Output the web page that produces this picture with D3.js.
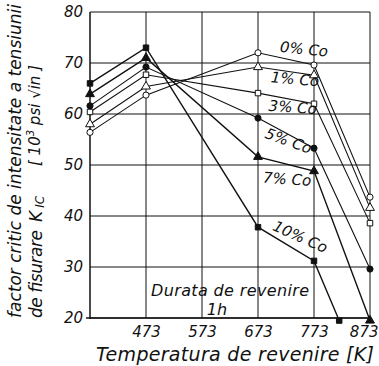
<!DOCTYPE html>
<html><head><meta charset="utf-8">
<script src="https://cdn.jsdelivr.net/npm/d3@7"></script>
<style>html,body{margin:0;padding:0;background:#fff;}svg{display:block;}</style>
</head><body>
<script>
const xTicks = [473, 573, 673, 773, 873];
const yTicks = [20, 30, 40, 50, 60, 70, 80];
const seriesNames = ["0%Co", "1%Co", "3%Co", "5%Co", "7%Co", "10%Co"];
const temps = [373, 473, 673, 773, 873];
const co0 = [56.4, 63.7, 72.0, 69.6, 43.7];
const co1 = [58.0, 65.4, 69.2, 67.6, 41.6];
const co3 = [60.4, 67.7, 64.1, 62.0, 38.6];
const co5 = [61.6, 69.2, 59.2, 53.3, 29.6];
const co7 = [63.9, 71.0, 51.6, 48.8, 19.5];
const temps10 = [373, 473, 673, 773, 818];
const co10 = [66.0, 73.0, 37.8, 31.2, 19.5];
const markerShapes = ["circle", "triangle", "square", "circle", "triangle", "square"];
const markerFilled = [false, false, false, true, true, true];
const labelAt = [[755, 72.6, 6], [739, 66.7, 5], [735, 61.2, 4], [727, 54.6, 20], [725, 47.1, 4], [748, 35.8, 24]];

const W = 379, H = 366;
const svg = d3.select("body").append("svg").attr("width", W).attr("height", H);
const x = d3.scaleLinear().domain([373, 873]).range([90, 370]);
const y = d3.scaleLinear().domain([20, 80]).range([318, 12]);
const font = "'DejaVu Sans', sans-serif";

// grid
const g = svg.append("g");
g.selectAll(".vg").data(xTicks).join("line")
  .attr("x1", d => x(d)).attr("x2", d => x(d)).attr("y1", y(80)).attr("y2", y(20))
  .attr("stroke", "#111").attr("stroke-width", 1);
g.selectAll(".hg").data(yTicks).join("line")
  .attr("x1", x(373)).attr("x2", x(873)).attr("y1", d => y(d)).attr("y2", d => y(d))
  .attr("stroke", "#111").attr("stroke-width", 1);
g.append("line").attr("x1", x(373)).attr("x2", x(373)).attr("y1", y(80)).attr("y2", y(20) + 1)
  .attr("stroke", "#111").attr("stroke-width", 1.5);
g.append("line").attr("x1", x(373) - 4).attr("x2", x(873)).attr("y1", y(20)).attr("y2", y(20))
  .attr("stroke", "#111").attr("stroke-width", 1.5);

// axes tick labels via d3 axes
const xAxis = svg.append("g").attr("transform", `translate(0,${y(20)})`)
  .call(d3.axisBottom(x).tickValues(xTicks).tickSize(0).tickPadding(8));
xAxis.select(".domain").remove();
xAxis.selectAll("text").attr("font-family", font).attr("font-style", "italic").attr("font-size", 15).attr("fill", "#111")
  .attr("text-anchor", d => d === 873 ? "end" : "middle")
  .attr("dx", d => d === 873 ? 8 : 0);
const yAxis = svg.append("g").attr("transform", `translate(${x(373)},0)`)
  .call(d3.axisLeft(y).tickValues(yTicks).tickSize(0).tickPadding(7));
yAxis.select(".domain").remove();
yAxis.selectAll("text").attr("font-family", font).attr("font-style", "italic").attr("font-size", 15).attr("fill", "#111");

// series
const allSeries = [
  {t: temps, v: co0}, {t: temps, v: co1}, {t: temps, v: co3},
  {t: temps, v: co5}, {t: temps, v: co7}, {t: temps10, v: co10}
];
const line = d3.line().x(d => x(d[0])).y(d => y(d[1]));
allSeries.forEach((s, i) => {
  const pts = s.t.map((t, j) => [t, s.v[j]]);
  svg.append("path").attr("d", line(pts)).attr("fill", "none")
    .attr("stroke", "#111").attr("stroke-width", i >= 4 ? 1.4 : 1.1);
});
const symMap = {circle: d3.symbolCircle, triangle: d3.symbolTriangle, square: d3.symbolSquare};
allSeries.forEach((s, i) => {
  const pts = s.t.map((t, j) => [t, s.v[j]]);
  svg.append("g").selectAll("path").data(pts).join("path")
    .attr("transform", d => `translate(${x(d[0])},${y(d[1])})`)
    .attr("d", d3.symbol().type(symMap[markerShapes[i]]).size(markerShapes[i] === "triangle" ? 34 : 30)())
    .attr("fill", markerFilled[i] ? "#111" : "#fff")
    .attr("stroke", "#111").attr("stroke-width", 1);
});

// series labels
svg.append("g").selectAll("text").data(seriesNames).join("text")
  .attr("transform", (d, i) => `translate(${x(labelAt[i][0])},${y(labelAt[i][1])}) rotate(${labelAt[i][2]})`)
  .attr("text-anchor", "middle").attr("dominant-baseline", "middle")
  .attr("font-family", font).attr("font-style", "italic").attr("font-size", 15).attr("fill", "#111")
  .text(d => d.replace("%", "% "));

// annotation
svg.append("text").attr("x", 230).attr("y", 296).attr("text-anchor", "middle")
  .attr("font-family", font).attr("font-style", "italic").attr("font-size", 16)
  .attr("textLength", 158).attr("fill", "#111").text("Durata de revenire");
svg.append("text").attr("x", 217).attr("y", 315).attr("text-anchor", "middle")
  .attr("font-family", font).attr("font-style", "italic").attr("font-size", 16).attr("fill", "#111").text("1h");

// x title
svg.append("text").attr("x", 96).attr("y", 361)
  .attr("font-family", font).attr("font-style", "italic").attr("font-size", 19)
  .attr("textLength", 278).attr("fill", "#111").text("Temperatura de revenire [K]");

// y title
svg.append("text").attr("transform", "translate(21,318) rotate(-90)")
  .attr("font-family", font).attr("font-style", "italic").attr("font-size", 17)
  .attr("textLength", 314).attr("fill", "#111").text("factor critic de intensitate a tensiunii");
svg.append("text").attr("transform", "translate(42,318) rotate(-90)")
  .attr("font-family", font).attr("font-style", "italic").attr("font-size", 17)
  .attr("textLength", 88).attr("fill", "#111").text("de fisurare");
const k = svg.append("text").attr("transform", "translate(42,222) rotate(-90)")
  .attr("font-family", font).attr("font-style", "italic").attr("font-size", 17).attr("fill", "#111");
k.append("tspan").text("K");
k.append("tspan").attr("dx", 3).attr("dy", 2).attr("font-size", 12).text("IC");
const u = svg.append("text").attr("transform", "translate(40,166) rotate(-90)")
  .attr("font-family", font).attr("font-style", "italic").attr("font-size", 15).attr("fill", "#111");
u.append("tspan").text("[ 10");
u.append("tspan").attr("dy", -6).attr("font-size", 10).text("3");
u.append("tspan").attr("dy", 6).text(" psi √in ]");
</script>
</body></html>
